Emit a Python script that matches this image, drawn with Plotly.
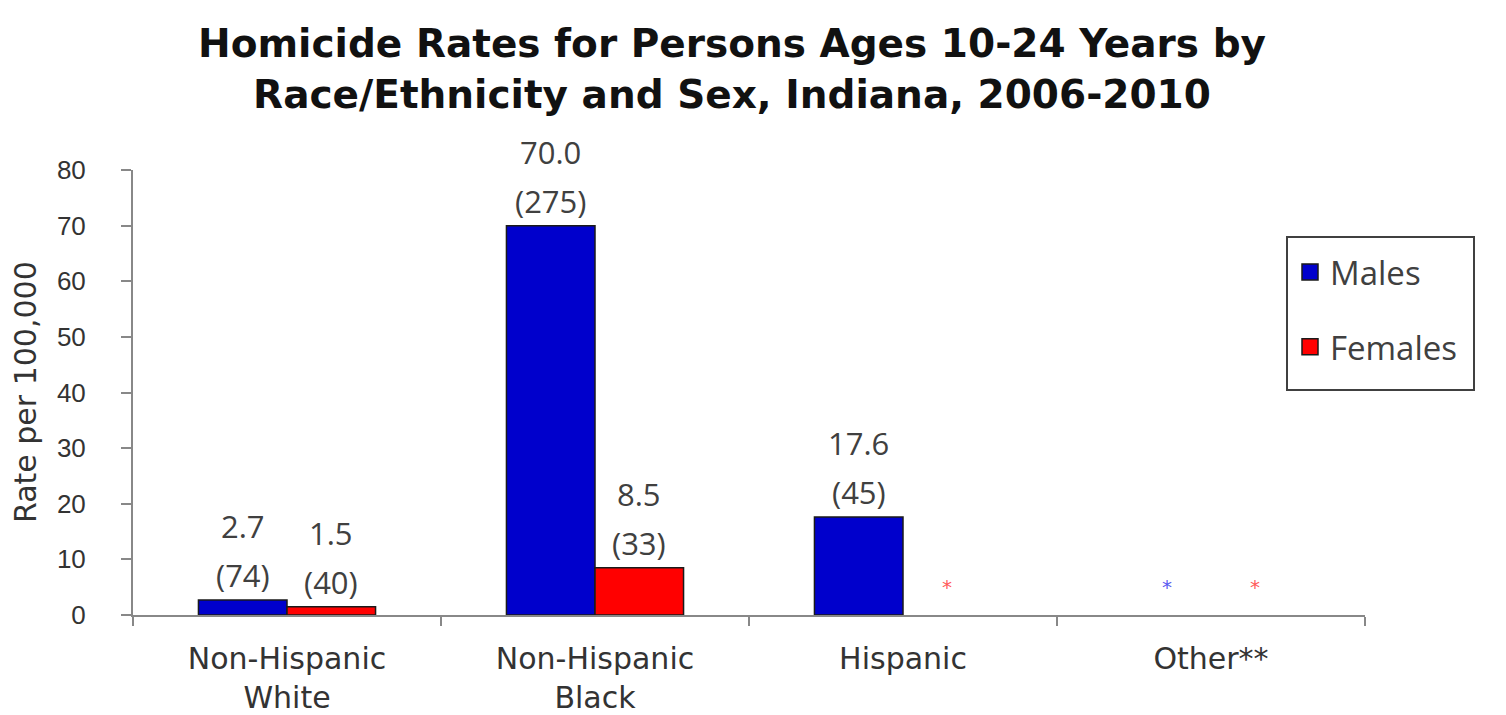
import plotly.graph_objects as go

# ---- data ----
categories = ["Non-Hispanic<br>White", "Non-Hispanic<br>Black", "Hispanic", "Other**"]
series_names = ["Males", "Females"]
male_rates = [2.7, 70.0, 17.6, None]
female_rates = [1.5, 8.5, None, None]
male_counts = [74, 275, 45, None]
female_counts = [40, 33, None, None]
y_ticks = [0, 10, 20, 30, 40, 50, 60, 70, 80]

# ---- style / layout (page body has an 8px margin) ----
OFF = 8
W, H = 1506 - OFF, 715 - OFF
X0, X1 = 133 - OFF, 1365 - OFF     # plot area left/right in figure px
Y0, Y1 = 170 - OFF, 615 - OFF      # plot area top/bottom in figure px
ML, MR, MT, MB = X0, W - X1, Y0, H - Y1
BLUE = "#0000CC"
RED = "#FF0000"
TXT = "#404040"
AX_TXT = "#333333"
BARGAP = 0.425
LABEL_FONT = "Open Sans"
AXIS_FONT = "DejaVu Sans"

pw = X1 - X0
ph = Y1 - Y0


def px_x(x):
    return (x - OFF - X0) / pw


def px_y(y):
    return (Y1 - (y - OFF)) / ph


fig = go.Figure()

series = [
    (series_names[0], male_rates, male_counts, BLUE, "#5A5AF0"),
    (series_names[1], female_rates, female_counts, RED, "#FF5A5A"),
]

bar_w = (1 - BARGAP) / len(series)
annotations = []
for s, (name, rates, counts, color, star_color) in enumerate(series):
    fig.add_trace(go.Bar(
        x=categories, y=rates, name=name, showlegend=False,
        marker=dict(color=color, line=dict(color="#1A1A1A", width=1.5)),
        hoverinfo="skip",
    ))
    # legend proxy
    fig.add_trace(go.Scatter(
        x=[None], y=[None], mode="markers", name=name, legendgroup=name,
        marker=dict(symbol="square", size=20, color=color,
                    line=dict(color="#1A1A1A", width=1.5)),
    ))
    offset = -(1 - BARGAP) / 2 + bar_w * (s + 0.5)
    for i, (r, c) in enumerate(zip(rates, counts)):
        xi = i + offset
        if r is None:
            annotations.append(dict(
                x=xi, y=0, xref="x", yref="y", text="*", showarrow=False,
                yshift=28, font=dict(family=AXIS_FONT, size=20, color=star_color),
            ))
        else:
            annotations.append(dict(
                x=xi, y=r, xref="x", yref="y", text=f"({c})", showarrow=False,
                yshift=25, yanchor="middle",
                font=dict(family=LABEL_FONT, size=31, color=TXT),
            ))
            annotations.append(dict(
                x=xi, y=r, xref="x", yref="y", text=f"{r:.1f}", showarrow=False,
                yshift=74, yanchor="middle",
                font=dict(family=LABEL_FONT, size=31, color=TXT),
            ))

# y-axis title
annotations.append(dict(
    x=px_x(25), y=px_y(392), xref="paper", yref="paper",
    text="Rate per 100,000", textangle=-90, showarrow=False,
    xanchor="center", yanchor="middle",
    font=dict(family=AXIS_FONT, size=30, color=AX_TXT),
))

# legend frame
shapes = [dict(
    type="rect", xref="paper", yref="paper",
    x0=px_x(1287), x1=px_x(1474), y0=px_y(390), y1=px_y(237),
    line=dict(color="#404040", width=2), fillcolor="rgba(0,0,0,0)",
)]

fig.update_layout(
    width=W, height=H,
    margin=dict(l=ML, r=MR, t=MT, b=MB, autoexpand=False),
    paper_bgcolor="white", plot_bgcolor="white",
    barmode="group", bargap=BARGAP, bargroupgap=0,
    title=dict(
        text="Homicide Rates for Persons Ages 10-24 Years by<br>Race/Ethnicity and Sex, Indiana, 2006-2010",
        x=(732 - OFF) / W, xanchor="center", xref="container",
        y=1 - 49 / H, yanchor="middle", yref="container",
        font=dict(family=AXIS_FONT, size=39, color="#111111", weight="bold"),
    ),
    xaxis=dict(
        type="category", categoryorder="array", categoryarray=categories,
        automargin=False,
        showline=True, linecolor="#888888", linewidth=2,
        ticks="outside", tickson="boundaries", ticklen=9, tickcolor="#888888", tickwidth=2,
        tickfont=dict(family=AXIS_FONT, size=30, color=AX_TXT),
        ticklabelstandoff=16,
        showgrid=False, zeroline=False,
    ),
    yaxis=dict(
        range=[0, 80], tickvals=y_ticks,
        automargin=False,
        showline=True, linecolor="#888888", linewidth=2,
        ticks="outside", ticklen=10, tickcolor="#888888", tickwidth=2,
        tickfont=dict(family="Liberation Sans", size=26, color=AX_TXT),
        ticklabelstandoff=30,
        showgrid=False, zeroline=False,
    ),
    legend=dict(
        x=px_x(1290), y=px_y(244), xanchor="left", yanchor="top",
        borderwidth=0, bgcolor="rgba(0,0,0,0)",
        font=dict(family=LABEL_FONT, size=33, color=TXT),
        tracegroupgap=29,
    ),
    annotations=annotations,
    shapes=shapes,
)

fig.write_html("out.html")
